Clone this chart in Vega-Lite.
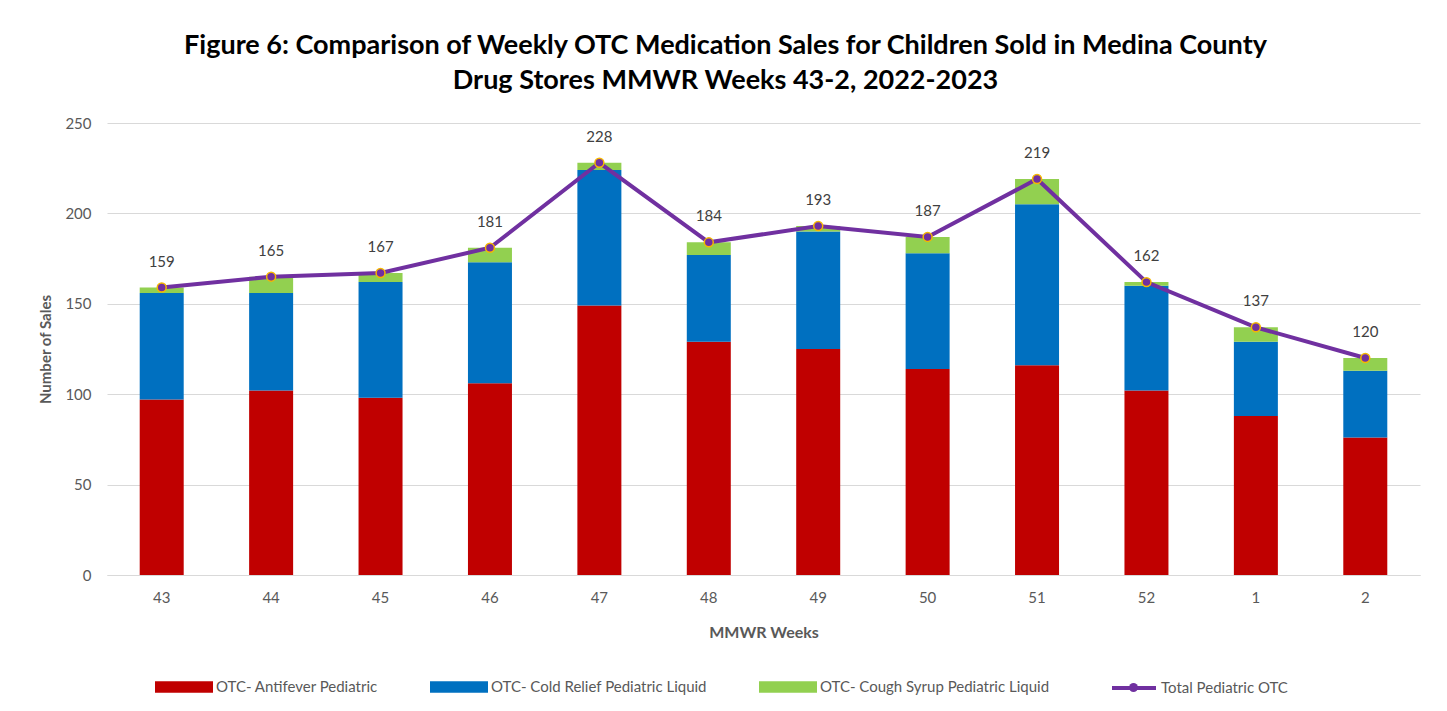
{
  "$schema": "https://vega.github.io/schema/vega-lite/v6.json",
  "width": 1313,
  "height": 452,
  "autosize": {"type": "none"},
  "padding": {"left": 107, "top": 123, "right": 27, "bottom": 136},
  "background": "white",
  "config": {"view": {"stroke": null}, "font": "Lato"},
  "title": {
    "text": ["Figure 6: Comparison of Weekly OTC Medication Sales for Children Sold in Medina County", "Drug Stores MMWR Weeks 43-2, 2022-2023"],
    "font": "Lato", "fontSize": 27, "fontWeight": "bold", "color": "#000000",
    "anchor": "middle", "dx": -38, "offset": 21, "lineHeight": 35
  },
  "datasets": {
    "parts": [
      {"week": "43", "series": "OTC- Antifever Pediatric", "value": 97, "ord": 1},
      {"week": "43", "series": "OTC- Cold Relief Pediatric Liquid", "value": 59, "ord": 2},
      {"week": "43", "series": "OTC- Cough Syrup Pediatric Liquid", "value": 3, "ord": 3},
      {"week": "44", "series": "OTC- Antifever Pediatric", "value": 102, "ord": 1},
      {"week": "44", "series": "OTC- Cold Relief Pediatric Liquid", "value": 54, "ord": 2},
      {"week": "44", "series": "OTC- Cough Syrup Pediatric Liquid", "value": 9, "ord": 3},
      {"week": "45", "series": "OTC- Antifever Pediatric", "value": 98, "ord": 1},
      {"week": "45", "series": "OTC- Cold Relief Pediatric Liquid", "value": 64, "ord": 2},
      {"week": "45", "series": "OTC- Cough Syrup Pediatric Liquid", "value": 5, "ord": 3},
      {"week": "46", "series": "OTC- Antifever Pediatric", "value": 106, "ord": 1},
      {"week": "46", "series": "OTC- Cold Relief Pediatric Liquid", "value": 67, "ord": 2},
      {"week": "46", "series": "OTC- Cough Syrup Pediatric Liquid", "value": 8, "ord": 3},
      {"week": "47", "series": "OTC- Antifever Pediatric", "value": 149, "ord": 1},
      {"week": "47", "series": "OTC- Cold Relief Pediatric Liquid", "value": 75, "ord": 2},
      {"week": "47", "series": "OTC- Cough Syrup Pediatric Liquid", "value": 4, "ord": 3},
      {"week": "48", "series": "OTC- Antifever Pediatric", "value": 129, "ord": 1},
      {"week": "48", "series": "OTC- Cold Relief Pediatric Liquid", "value": 48, "ord": 2},
      {"week": "48", "series": "OTC- Cough Syrup Pediatric Liquid", "value": 7, "ord": 3},
      {"week": "49", "series": "OTC- Antifever Pediatric", "value": 125, "ord": 1},
      {"week": "49", "series": "OTC- Cold Relief Pediatric Liquid", "value": 65, "ord": 2},
      {"week": "49", "series": "OTC- Cough Syrup Pediatric Liquid", "value": 3, "ord": 3},
      {"week": "50", "series": "OTC- Antifever Pediatric", "value": 114, "ord": 1},
      {"week": "50", "series": "OTC- Cold Relief Pediatric Liquid", "value": 64, "ord": 2},
      {"week": "50", "series": "OTC- Cough Syrup Pediatric Liquid", "value": 9, "ord": 3},
      {"week": "51", "series": "OTC- Antifever Pediatric", "value": 116, "ord": 1},
      {"week": "51", "series": "OTC- Cold Relief Pediatric Liquid", "value": 89, "ord": 2},
      {"week": "51", "series": "OTC- Cough Syrup Pediatric Liquid", "value": 14, "ord": 3},
      {"week": "52", "series": "OTC- Antifever Pediatric", "value": 102, "ord": 1},
      {"week": "52", "series": "OTC- Cold Relief Pediatric Liquid", "value": 58, "ord": 2},
      {"week": "52", "series": "OTC- Cough Syrup Pediatric Liquid", "value": 2, "ord": 3},
      {"week": "1", "series": "OTC- Antifever Pediatric", "value": 88, "ord": 1},
      {"week": "1", "series": "OTC- Cold Relief Pediatric Liquid", "value": 41, "ord": 2},
      {"week": "1", "series": "OTC- Cough Syrup Pediatric Liquid", "value": 8, "ord": 3},
      {"week": "2", "series": "OTC- Antifever Pediatric", "value": 76, "ord": 1},
      {"week": "2", "series": "OTC- Cold Relief Pediatric Liquid", "value": 37, "ord": 2},
      {"week": "2", "series": "OTC- Cough Syrup Pediatric Liquid", "value": 7, "ord": 3}
    ],
    "totals": [
      {"week": "43", "total": 159},
      {"week": "44", "total": 165},
      {"week": "45", "total": 167},
      {"week": "46", "total": 181},
      {"week": "47", "total": 228},
      {"week": "48", "total": 184},
      {"week": "49", "total": 193},
      {"week": "50", "total": 187},
      {"week": "51", "total": 219},
      {"week": "52", "total": 162},
      {"week": "1", "total": 137},
      {"week": "2", "total": 120}
    ]
  },
  "encoding": {
    "x": {
      "field": "week", "type": "nominal", "sort": ["43","44","45","46","47","48","49","50","51","52","1","2"],
      "scale": {"paddingInner": 0.6, "paddingOuter": 0.3},
      "axis": {
        "title": "MMWR Weeks", "titleFont": "Lato", "titleFontSize": 16, "titleFontWeight": "bold", "titleColor": "#595959",
        "titlePadding": 19,
        "labelAngle": 0, "labelFont": "Lato", "labelFontSize": 15, "labelColor": "#595959", "labelPadding": 15,
        "ticks": false, "domainColor": "#d9d9d9", "domainWidth": 1.2, "grid": false
      }
    }
  },
  "layer": [
    {
      "data": {"name": "parts"},
      "mark": {"type": "bar", "width": 44},
      "encoding": {
        "y": {
          "field": "value", "type": "quantitative", "stack": "zero",
          "scale": {"domain": [0, 250], "nice": false},
          "axis": {
            "title": "Number of Sales", "titleFont": "Lato", "titleFontSize": 15, "titleFontWeight": "bold", "titleColor": "#595959",
            "titlePadding": 11,
            "values": [0, 50, 100, 150, 200, 250],
            "labelFont": "Lato", "labelFontSize": 15, "labelColor": "#595959", "labelPadding": 16,
            "ticks": false, "domain": false, "gridColor": "#d9d9d9", "gridWidth": 1.2
          }
        },
        "fill": {
          "field": "series", "type": "nominal",
          "scale": {
            "domain": ["OTC- Antifever Pediatric", "OTC- Cold Relief Pediatric Liquid", "OTC- Cough Syrup Pediatric Liquid"],
            "range": ["#C00000", "#0070C0", "#92D050"]
          },
          "legend": {
            "title": null, "orient": "none", "legendX": 48, "legendY": 535, "direction": "horizontal",
            "symbolType": "M-1,-0.2H1V0.2H-1Z", "symbolSize": 3364, "symbolStrokeWidth": 0,
            "labelFont": "Lato", "labelFontSize": 15, "labelColor": "#595959", "labelOffset": 3, "labelLimit": 400,
            "columnPadding": 52
          }
        },
        "order": {"field": "ord", "type": "quantitative"}
      }
    },
    {
      "data": {"name": "totals"},
      "mark": {"type": "line", "strokeWidth": 4},
      "encoding": {
        "y": {"field": "total", "type": "quantitative"},
        "stroke": {
          "datum": "Total Pediatric OTC",
          "scale": {"range": ["#7030A0"]},
          "legend": {
            "title": null, "orient": "none", "legendX": 1003, "legendY": 541,
            "symbolType": "stroke", "symbolSize": 1936, "symbolStrokeWidth": 4,
            "labelFont": "Lato", "labelFontSize": 15, "labelColor": "#595959", "labelOffset": 3, "labelLimit": 400
          }
        }
      }
    },
    {
      "data": {"name": "totals"},
      "mark": {"type": "point", "filled": true, "size": 80, "fill": "#7030A0", "stroke": "#F5B800", "strokeWidth": 1.5, "opacity": 1},
      "encoding": {
        "y": {"field": "total", "type": "quantitative"},
        "shape": {
          "datum": "marker",
          "scale": {"range": ["circle"]},
          "legend": {
            "title": null, "orient": "none", "legendX": 1021, "legendY": 559,
            "symbolSize": 80, "symbolFillColor": "#7030A0", "symbolStrokeColor": "#F5B800", "symbolStrokeWidth": 1.5,
            "labelExpr": "''", "labelOpacity": 0
          }
        }
      }
    },
    {
      "data": {"name": "totals"},
      "mark": {"type": "text", "dy": -26, "font": "Lato", "fontSize": 15, "color": "#404040"},
      "encoding": {
        "y": {"field": "total", "type": "quantitative"},
        "text": {"field": "total", "type": "quantitative"}
      }
    }
  ]
}
